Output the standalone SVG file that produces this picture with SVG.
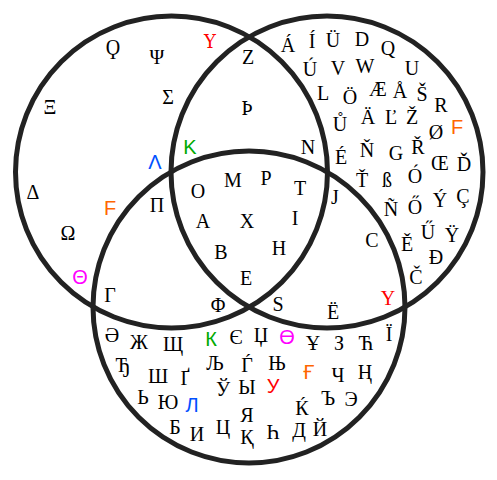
<svg xmlns="http://www.w3.org/2000/svg" width="497" height="480" viewBox="0 0 497 480">
<style>
.c{fill:none;stroke:#222;stroke-width:5}
text{font-family:"Liberation Serif","Times New Roman","DejaVu Serif",serif;font-size:20px;text-anchor:middle;fill:#000}
.s{font-family:"Liberation Sans",Arial,"DejaVu Sans",sans-serif}
.dj{font-family:"DejaVu Serif",serif;font-size:18px}
.or{fill:#ff6600}.gr{fill:#00aa00}.bl{fill:#0050ff}.mg{fill:#ff00ff}.rd{fill:#ff0000}
</style>
<rect width="497" height="480" fill="#fff"/>
<g id="circles">
<circle id="greek" class="c" cx="171.5" cy="172" r="156"/>
<circle id="latin" class="c" cx="327" cy="172" r="156"/>
<circle id="cyrillic" class="c" cx="249" cy="307" r="156"/>
</g>
<g id="greek-only">
<text x="113" y="54">Ϙ</text>
<text x="157" y="64">Ψ</text>
<text x="210" y="48" class="dj rd">Υ</text>
<text x="168" y="104">Σ</text>
<text x="50" y="114">Ξ</text>
<text x="155" y="169" class="s bl">Λ</text>
<text x="33" y="199">Δ</text>
<text x="110" y="215" class="s or">F</text>
<text x="68" y="240">Ω</text>
<text x="80" y="284" class="s mg">Θ</text>
</g>
<g id="greek-latin">
<text x="248" y="64">Z</text>
<text x="247" y="115">Þ</text>
<text x="190" y="154" class="s gr">K</text>
<text x="308" y="154">N</text>
</g>
<g id="all-three">
<text x="198" y="198">O</text>
<text x="233" y="187">M</text>
<text x="266" y="185">P</text>
<text x="300" y="195">T</text>
<text x="203" y="228">A</text>
<text x="247" y="228">X</text>
<text x="295" y="225">I</text>
<text x="221" y="259">B</text>
<text x="279" y="255">H</text>
<text x="246" y="285">E</text>
</g>
<g id="greek-cyrillic">
<text x="157" y="212">Π</text>
<text x="110" y="302">Γ</text>
<text x="218" y="312">Φ</text>
</g>
<g id="latin-cyrillic">
<text x="335" y="204">J</text>
<text x="372" y="247">C</text>
<text x="278" y="311">S</text>
<text x="333" y="319">Ë</text>
<text x="388" y="305" class="rd">Y</text>
</g>
<g id="latin-only">
<text x="288" y="52">Á</text>
<text x="312" y="48">Í</text>
<text x="333" y="47">Ü</text>
<text x="362" y="46">D</text>
<text x="388" y="55">Q</text>
<text x="412" y="75">U</text>
<text x="310" y="76">Ú</text>
<text x="338" y="75">V</text>
<text x="365" y="73">W</text>
<text x="323" y="100">L</text>
<text x="350" y="104">Ö</text>
<text x="378" y="96">Æ</text>
<text x="400" y="98">Å</text>
<text x="422" y="101">Š</text>
<text x="441" y="112">R</text>
<text x="340" y="131">Ů</text>
<text x="368" y="124">Ä</text>
<text x="391" y="124">Ľ</text>
<text x="412" y="124">Ž</text>
<text x="436" y="139">Ø</text>
<text x="457" y="134" class="s or">F</text>
<text x="341" y="164">É</text>
<text x="367" y="157">Ň</text>
<text x="396" y="160">G</text>
<text x="418" y="154">Ř</text>
<text x="440" y="170">Œ</text>
<text x="464" y="171">Ď</text>
<text x="362" y="187">Ť</text>
<text x="387" y="187">ß</text>
<text x="415" y="183">Ó</text>
<text x="391" y="216">Ñ</text>
<text x="415" y="214">Ő</text>
<text x="440" y="207">Ý</text>
<text x="463" y="203">Ç</text>
<text x="428" y="239">Ű</text>
<text x="452" y="242">Ÿ</text>
<text x="407" y="251">Ě</text>
<text x="436" y="264">Đ</text>
<text x="416" y="284">Č</text>
</g>
<g id="cyrillic-only">
<text x="112" y="342">Ә</text>
<text x="139" y="349">Ж</text>
<text x="173" y="351">Щ</text>
<text x="211" y="346" class="s gr">К</text>
<text x="236" y="344">Є</text>
<text x="261" y="342">Џ</text>
<text x="287" y="344" class="s mg">Ө</text>
<text x="313" y="350">Ұ</text>
<text x="339" y="350">З</text>
<text x="366" y="350">Ћ</text>
<text x="389" y="341">Ї</text>
<text x="123" y="372">Ђ</text>
<text x="158" y="383">Ш</text>
<text x="185" y="385">Ґ</text>
<text x="215" y="370">Љ</text>
<text x="247" y="372">Ѓ</text>
<text x="277" y="370">Њ</text>
<text x="309" y="379" class="s or">Ғ</text>
<text x="338" y="382">Ч</text>
<text x="365" y="379">Ң</text>
<text x="143" y="404">Ь</text>
<text x="168" y="409">Ю</text>
<text x="192" y="412" class="s bl">Л</text>
<text x="223" y="396">Ў</text>
<text x="247" y="394">Ы</text>
<text x="273" y="393" class="s rd">У</text>
<text x="302" y="415">Ќ</text>
<text x="328" y="405">Ъ</text>
<text x="351" y="406">Э</text>
<text x="175" y="434">Б</text>
<text x="197" y="441">И</text>
<text x="223" y="434">Ц</text>
<text x="247" y="422">Я</text>
<text x="247" y="444">Қ</text>
<text x="273" y="439">Һ</text>
<text x="299" y="437">Д</text>
<text x="320" y="436">Й</text>
</g>
</svg>
